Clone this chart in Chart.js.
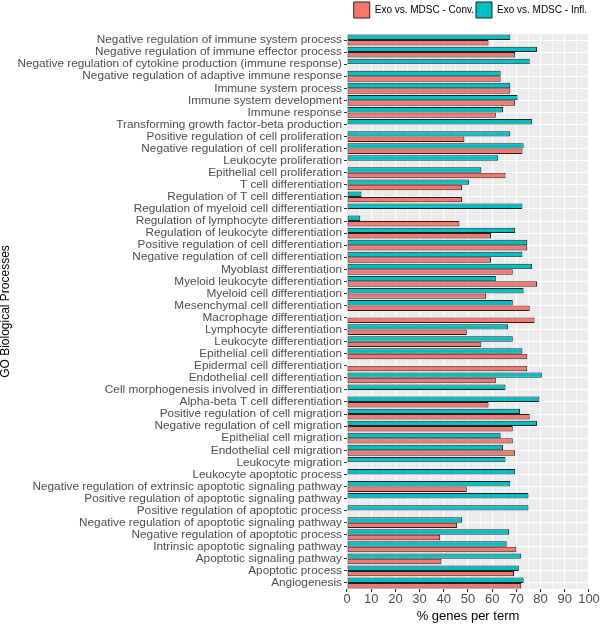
<!DOCTYPE html>
<html>
<head>
<meta charset="utf-8">
<script src="https://cdn.jsdelivr.net/npm/chart.js@4.4.1/dist/chart.umd.min.js"></script>
<style>
  html, body { margin: 0; padding: 0; background: #fff; }
  #chart { display: block; }
</style>
</head>
<body>
<canvas id="chart" width="600" height="624"></canvas>
<script>
// datos (de arriba a abajo)
const terminos = [
  'Negative regulation of immune system process',
  'Negative regulation of immune effector process',
  'Negative regulation of cytokine production (immune response)',
  'Negative regulation of adaptive immune response',
  'Immune system process',
  'Immune system development',
  'Immune response',
  'Transforming growth factor-beta production',
  'Positive regulation of cell proliferation',
  'Negative regulation of cell proliferation',
  'Leukocyte proliferation',
  'Epithelial cell proliferation',
  'T cell differentiation',
  'Regulation of T cell differentiation',
  'Regulation of myeloid cell differentiation',
  'Regulation of lymphocyte differentiation',
  'Regulation of leukocyte differentiation',
  'Positive regulation of cell differentiation',
  'Negative regulation of cell differentiation',
  'Myoblast differentiation',
  'Myeloid leukocyte differentiation',
  'Myeloid cell differentiation',
  'Mesenchymal cell differentiation',
  'Macrophage differentiation',
  'Lymphocyte differentiation',
  'Leukocyte differentiation',
  'Epithelial cell differentiation',
  'Epidermal cell differentiation',
  'Endothelial cell differentiation',
  'Cell morphogenesis involved in differentiation',
  'Alpha-beta T cell differentiation',
  'Positive regulation of cell migration',
  'Negative regulation of cell migration',
  'Epithelial cell migration',
  'Endothelial cell migration',
  'Leukocyte migration',
  'Leukocyte apoptotic process',
  'Negative regulation of extrinsic apoptotic signaling pathway',
  'Positive regulation of apoptotic signaling pathway',
  'Positive regulation of apoptotic process',
  'Negative regulation of apoptotic signaling pathway',
  'Negative regulation of apoptotic process',
  'Intrinsic apoptotic signaling pathway',
  'Apoptotic signaling pathway',
  'Apoptotic process',
  'Angiogenesis'
];

// % genes per term
const conv = [58.5, 69.5, null, 63.5, 67.5, 69.5, 61.5, null, 48.5, 72.5,
  null, 65.5, 47.5, 47.5, null, 46.5, 59.5, 74.5, 59.5, 68.5,
  78.5, 57.5, 75.5, 77.5, 49.5, 55.5, 74.5, 74.5, 61.5, null,
  58.5, 75.5, 68.5, 68.5, 69.5, null, null, 49.5, null, null,
  45.5, 38.5, 70, 39, 69, 72];

const infl = [67.5, 78.5, 75.5, 63.5, 67.5, 70.5, 64.5, 76.5, 67.5, 73,
  62.5, 55.5, 50.5, 6, 72.5, 5.5, 69.5, 74.5, 72.5, 76.5,
  61.5, 73, 68.5, null, 66.5, 68.5, 72.5, null, 80.5, 65.5,
  79.5, 71.5, 78.5, 63.5, 64.5, 65.5, 69.5, 67.5, 75, 75,
  47.5, 67, 66, 72, 71, 73];

const xMin = 0;
const xMax = 100;
const xPaso = 10;

const FUENTE = '"Liberation Sans", Arial, sans-serif';
const GRIS = '#4d4d4d';

// fondo gris del panel (estilo ggplot)
const fondoPanel = {
  id: 'fondoPanel',
  beforeLayout(chart) {
    const lg = chart.legend;
    if (lg && !lg._ajustado) {
      const fitOrig = lg.fit.bind(lg);
      lg.fit = function () { fitOrig(); this.height += 6; };
      lg._ajustado = true;
    }
  },
  beforeDraw(chart) {
    const { ctx, chartArea: a } = chart;
    ctx.save();
    ctx.fillStyle = '#ebebeb';
    ctx.fillRect(a.left, a.top, a.right - a.left, a.bottom - a.top);
    ctx.restore();
  }
};

const ctx = document.getElementById('chart').getContext('2d');
new Chart(ctx, {
  type: 'bar',
  data: {
    labels: terminos,
    datasets: [{
      label: 'Exo vs. MDSC - Infl.',
      data: infl,
      backgroundColor: '#00bfc4',
      borderColor: '#222',
      borderWidth: 1,
      borderSkipped: false
    }, {
      label: 'Exo vs. MDSC - Conv.',
      data: conv,
      backgroundColor: '#f8766d',
      borderColor: '#222',
      borderWidth: 1,
      borderSkipped: false
    }]
  },
  options: {
    indexAxis: 'y',
    responsive: false,
    animation: false,
    devicePixelRatio: 1,
    datasets: { bar: { categoryPercentage: 0.9, barPercentage: 1.0 } },
    layout: { padding: { left: 0, right: 11, top: 0, bottom: 0 } },
    plugins: {
      tooltip: { enabled: false },
      legend: {
        display: true,
        position: 'top',
        align: 'end',
        reverse: true,
        labels: {
          boxWidth: 16,
          boxHeight: 16,
          padding: 2,
          color: '#000',
          font: { family: FUENTE, size: 10 }
        }
      }
    },
    scales: {
      x: {
        type: 'linear',
        min: xMin,
        max: xMax,
        afterFit(s) { s.height = 35; },
        border: { display: false },
        grid: {
          color: '#ffffff',
          lineWidth: c => (c.tick && c.tick.value % xPaso === 0) ? 1.1 : 0.55,
          tickLength: 3,
          tickColor: c => (c.tick && c.tick.value % xPaso === 0) ? '#333' : 'rgba(0,0,0,0)'
        },
        ticks: {
          stepSize: xPaso / 2,
          autoSkip: false,
          maxRotation: 0,
          minRotation: 0,
          padding: 0,
          color: GRIS,
          font: { family: FUENTE, size: 13 },
          callback: v => (v % xPaso === 0 ? v : '')
        },
        title: {
          display: true,
          text: '% genes per term',
          color: '#000',
          padding: 0,
          font: { family: FUENTE, size: 13, lineHeight: 1.2 }
        }
      },
      y: {
        afterFit(s) { s.width = 347; },
        border: { display: false },
        grid: {
          offset: false,
          color: '#ffffff',
          lineWidth: 1,
          tickLength: 3,
          tickColor: '#333'
        },
        ticks: {
          autoSkip: false,
          padding: 2,
          color: GRIS,
          font: { family: FUENTE, size: 11.8 }
        },
        title: {
          display: true,
          text: 'GO Biological Processes',
          color: '#000',
          padding: 0,
          font: { family: FUENTE, size: 12, lineHeight: 1.0 }
        }
      }
    }
  },
  plugins: [fondoPanel]
});
</script>
</body>
</html>
